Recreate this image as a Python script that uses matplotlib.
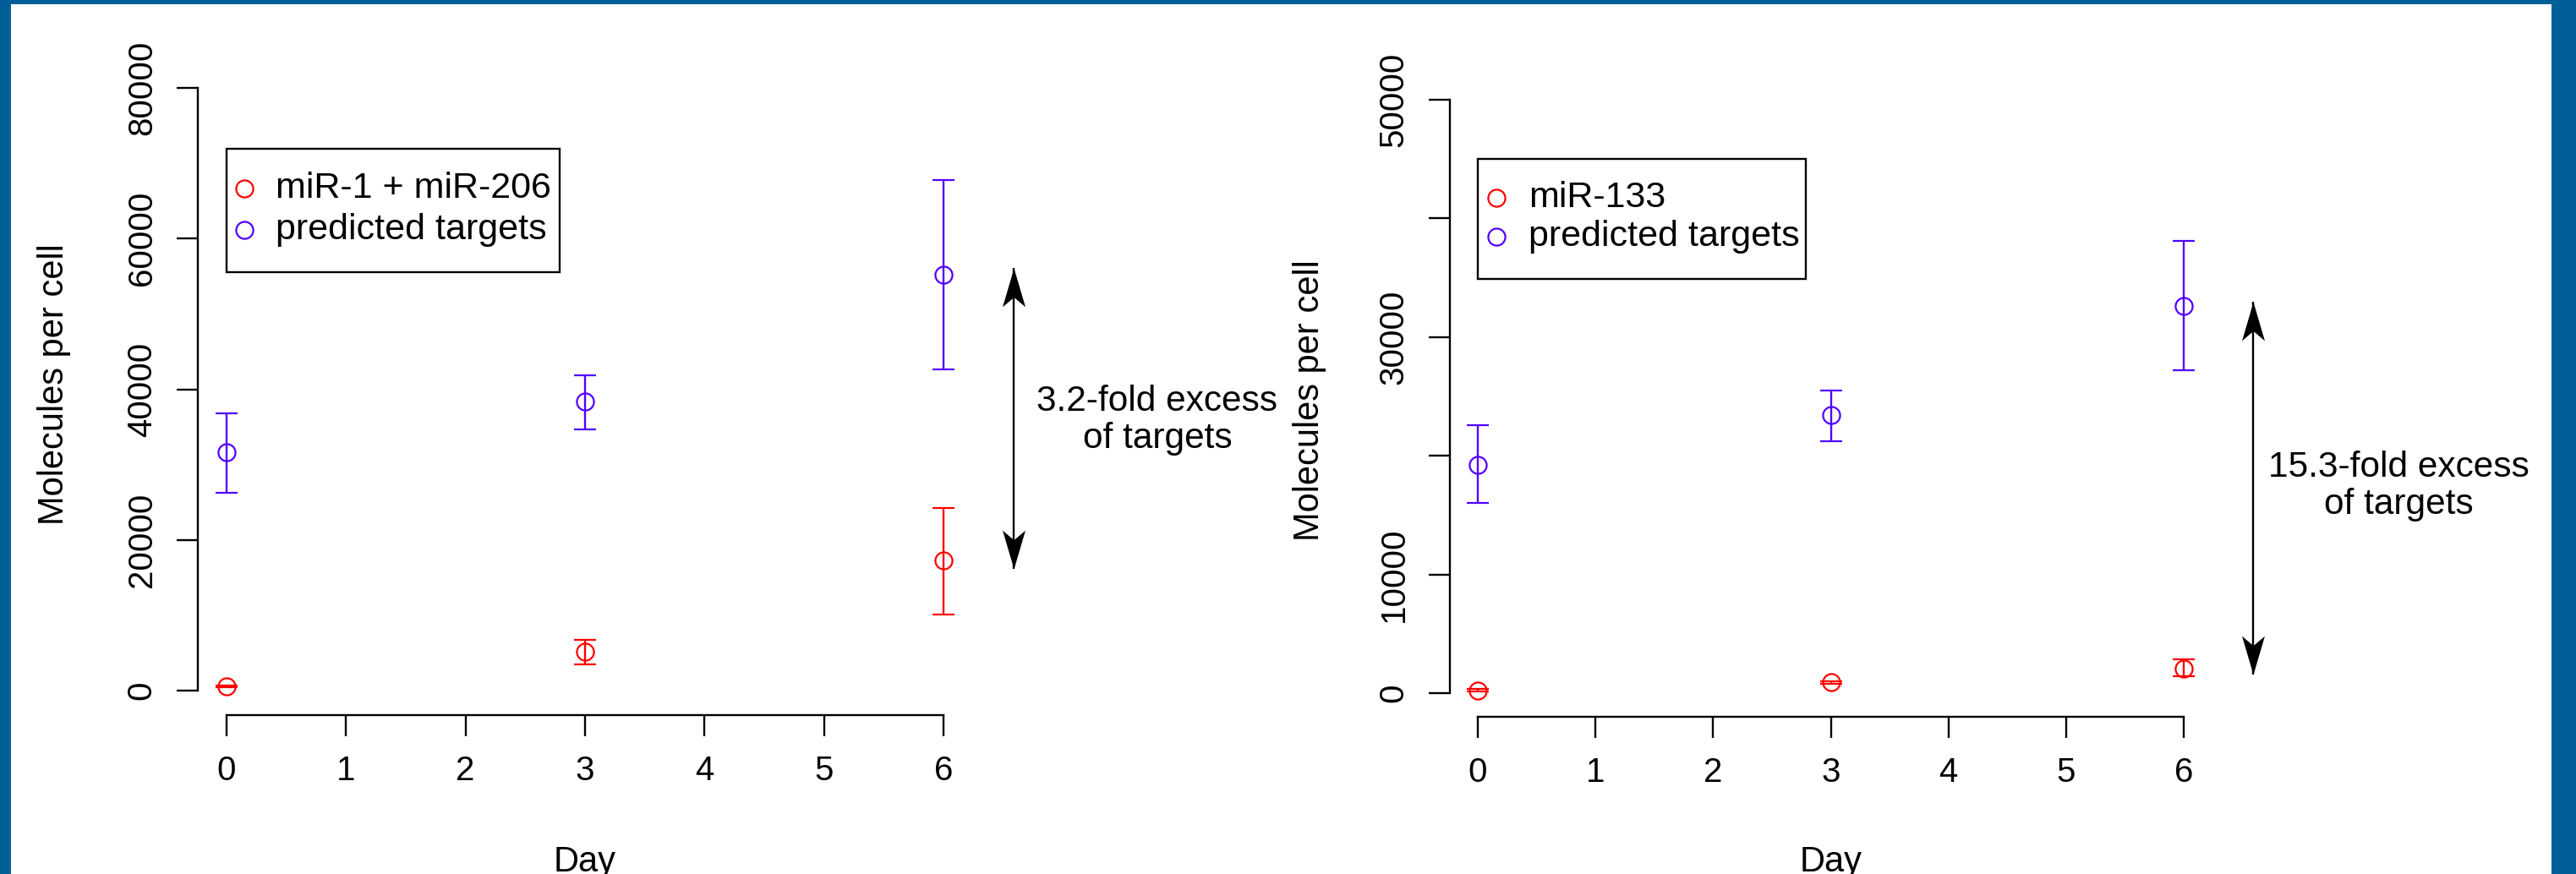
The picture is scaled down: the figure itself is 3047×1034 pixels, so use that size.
import matplotlib
matplotlib.use('Agg')
import matplotlib.pyplot as plt
from matplotlib.patches import Rectangle
from matplotlib.lines import Line2D
from matplotlib.path import Path

plt.rcParams['font.family'] = ['Liberation Sans', 'DejaVu Sans']

# ---------------- data ----------------
days = [0, 3, 6]
x_ticks = [0, 1, 2, 3, 4, 5, 6]

# left panel: miR-1 + miR-206
mir1_mean = [560, 5200, 17300]
mir1_low = [460, 3500, 10100]
mir1_high = [660, 6750, 24200]
targets1_mean = [31600, 38400, 55200]
targets1_low = [26300, 34700, 42600]
targets1_high = [36800, 41900, 67800]
left_yticks = [0, 20000, 40000, 60000, 80000]
left_yticklabels = ['0', '20000', '40000', '60000', '80000']
left_arrow = [16200, 56100]
left_note = '3.2-fold excess\nof targets'
left_labels = ['miR-1 + miR-206', 'predicted targets']

# right panel: miR-133
mir133_mean = [230, 900, 2100]
mir133_low = [130, 780, 1400]
mir133_high = [330, 1020, 2850]
targets2_mean = [19200, 23400, 32600]
targets2_low = [16000, 21200, 27200]
targets2_high = [22600, 25500, 38100]
right_yticks = [0, 10000, 20000, 30000, 40000, 50000]
right_yticklabels = ['0', '10000', '', '30000', '', '50000']
right_arrow = [1600, 33000]
right_note = '15.3-fold excess\nof targets'
right_labels = ['miR-133', 'predicted targets']

RED = '#ff0000'
BLUE = '#5200ff'
FRAME = '#005f99'

W, H = 3047, 1034
fig = plt.figure(figsize=(W / 100, H / 100), dpi=100)


def add_axes(x0px, x6px, yzero_px, yref_px, yref_val, xlim, ylim):
    ppd = (x6px - x0px) / 6.0
    ppv = (yzero_px - yref_px) / yref_val
    left = x0px + xlim[0] * ppd
    right = x0px + xlim[1] * ppd
    bottom = yzero_px - ylim[0] * ppv
    top = yzero_px - ylim[1] * ppv
    ax = fig.add_axes([left / W, 1 - bottom / H, (right - left) / W, (bottom - top) / H])
    ax.set_xlim(*xlim)
    ax.set_ylim(*ylim)
    return ax


def style(ax, yticks, ylabels, ymax):
    for s in ['top', 'right']:
        ax.spines[s].set_visible(False)
    for s in ['left', 'bottom']:
        ax.spines[s].set_linewidth(1.7)
    ax.spines['left'].set_bounds(0, ymax)
    ax.spines['bottom'].set_bounds(0, 6)
    ax.set_xticks(x_ticks)
    ax.set_xticklabels([str(t) for t in x_ticks])
    ax.set_yticks(yticks)
    ax.set_yticklabels(ylabels)
    ax.tick_params(direction='out', length=18, width=1.7, labelsize=29, pad=16)
    ax.tick_params(axis='y', labelrotation=90)
    for lab in ax.get_yticklabels():
        lab.set_va('center')
    ax.patch.set_visible(False)


def series(ax, mean, low, high, color):
    yerr = [[m - l for m, l in zip(mean, low)], [h - m for m, h in zip(mean, high)]]
    ax.errorbar(days, mean, yerr=yerr, fmt='o', ms=14.5, mfc='none', mec=color,
                mew=1.6, ecolor=color, elinewidth=1.7, capsize=9.4, capthick=1.7,
                clip_on=False, zorder=3)


up_head = Path([(0, 0), (0.294, -1), (0, -0.75), (-0.294, -1), (0, 0)],
               [Path.MOVETO, Path.LINETO, Path.LINETO, Path.LINETO, Path.CLOSEPOLY])
down_head = Path([(0, 0), (0.294, 1), (0, 0.75), (-0.294, 1), (0, 0)],
                 [Path.MOVETO, Path.LINETO, Path.LINETO, Path.LINETO, Path.CLOSEPOLY])


def double_arrow(ax, x, y0, y1):
    ax.plot([x, x], [y0, y1], color='black', lw=1.7, clip_on=False, solid_capstyle='butt')
    ax.plot([x], [y1], marker=up_head, ms=66, color='black', mew=0, clip_on=False)
    ax.plot([x], [y0], marker=down_head, ms=66, color='black', mew=0, clip_on=False)


def legend_box(x0, y0, x1, y1, mx, tx, rows, labels, colors):
    fig.add_artist(Rectangle((x0 / W, 1 - y1 / H), (x1 - x0) / W, (y1 - y0) / H,
                             transform=fig.transFigure, fill=False, ec='black', lw=1.7))
    for ry, lab, c in zip(rows, labels, colors):
        fig.add_artist(Line2D([mx / W], [1 - ry / H], marker='o', ms=14.5, mfc='none',
                              mec=c, mew=1.6, transform=fig.transFigure))
        fig.text(tx / W, 1 - ry / H, lab, fontsize=31, ha='left', va='center')


# ---------------- left panel ----------------
ax1 = add_axes(268, 1116, 817, 104, 80000, (-0.24, 6.24), (-3200, 83200))
style(ax1, left_yticks, left_yticklabels, 80000)
series(ax1, mir1_mean, mir1_low, mir1_high, RED)
series(ax1, targets1_mean, targets1_low, targets1_high, BLUE)
double_arrow(ax1, 6.59, left_arrow[0], left_arrow[1])
legend_box(268, 176, 662, 322, 289, 326, [223, 272], left_labels, [RED, BLUE])
fig.text(1369 / W, 1 - 497 / H, left_note, fontsize=30.5, ha='center', va='center',
         multialignment='center', linespacing=1.15)
fig.text(64 / W, 1 - 455 / H, 'Molecules per cell', fontsize=30, rotation=90,
         ha='center', va='center')
fig.text(692 / W, 1 - 1031 / H, 'Day', fontsize=30, ha='center', va='baseline')

# ---------------- right panel ----------------
ax2 = add_axes(1748, 2583, 820, 118, 50000, (-0.24, 6.24), (-2000, 52000))
style(ax2, right_yticks, right_yticklabels, 50000)
series(ax2, mir133_mean, mir133_low, mir133_high, RED)
series(ax2, targets2_mean, targets2_low, targets2_high, BLUE)
double_arrow(ax2, 6.59, right_arrow[0], right_arrow[1])
legend_box(1748, 188, 2136, 330, 1770, 1808, [234, 280], right_labels, [RED, BLUE])
fig.text(2837 / W, 1 - 575 / H, right_note, fontsize=30.5, ha='center', va='center',
         multialignment='center', linespacing=1.15)
fig.text(1549 / W, 1 - 474 / H, 'Molecules per cell', fontsize=30, rotation=90,
         ha='center', va='center')
fig.text(2166 / W, 1 - 1031 / H, 'Day', fontsize=30, ha='center', va='baseline')

# ---------------- frame ----------------
fig.add_artist(Rectangle((0, 0), 13 / W, 1, transform=fig.transFigure, color=FRAME, lw=0))
fig.add_artist(Rectangle((0, 1 - 5 / H), 1, 5 / H, transform=fig.transFigure, color=FRAME, lw=0))
fig.add_artist(Rectangle((3018 / W, 0), 29 / W, 1, transform=fig.transFigure, color=FRAME, lw=0))

fig.savefig('out.png', dpi=100, facecolor='white')
